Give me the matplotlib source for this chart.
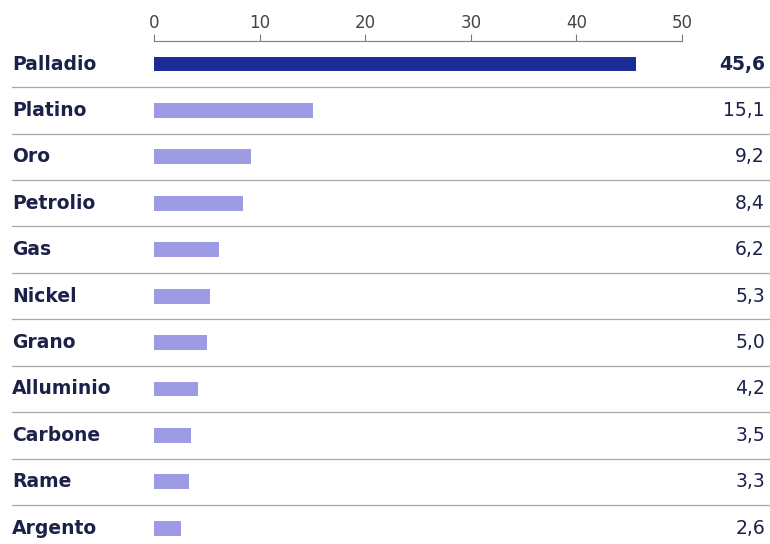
import matplotlib.pyplot as plt

# dati
categorie = ['Palladio', 'Platino', 'Oro', 'Petrolio', 'Gas', 'Nickel',
             'Grano', 'Alluminio', 'Carbone', 'Rame', 'Argento']
valori = [45.6, 15.1, 9.2, 8.4, 6.2, 5.3, 5.0, 4.2, 3.5, 3.3, 2.6]
etichette = ['45,6', '15,1', '9,2', '8,4', '6,2', '5,3', '5,0', '4,2', '3,5', '3,3', '2,6']
tick_x = [0, 10, 20, 30, 40, 50]

plt.rcParams['font.family'] = ['DejaVu Sans']

fig = plt.figure(figsize=(7.7, 5.44), dpi=100)
ax = fig.add_axes([154 / 770, 0, 528 / 770, 1 - 40.8 / 544])

colori = ['#1b2c98'] + ['#9d9be3'] * (len(valori) - 1)
y = list(range(len(valori)))
ax.barh(y, valori, height=0.32, color=colori)

ax.set_xlim(0, 50)
ax.set_ylim(10.34, -0.5)

# asse in alto
for s in ['right', 'left', 'bottom']:
    ax.spines[s].set_visible(False)
ax.spines['top'].set_color('#8a8a6a')
ax.spines['top'].set_linewidth(0.9)
ax.xaxis.tick_top()
ax.set_xticks(tick_x)
ax.tick_params(axis='x', direction='out', length=5, width=0.8, color='#777777',
               labelsize=12, labelcolor='#444444', pad=1.5)
ax.set_yticks([])

# linee di separazione
for i in range(len(valori) - 1):
    ax.axhline(i + 0.5, xmin=-0.269, xmax=1.167, color='#a8a8a8', lw=0.9, clip_on=False)

# etichette e valori
for i, (c, e) in enumerate(zip(categorie, etichette)):
    ax.text(-0.269, i, c, transform=ax.get_yaxis_transform(), ha='left', va='center',
            fontsize=13.5, fontweight='bold', color='#1b2148')
    ax.text(1.157, i, e, transform=ax.get_yaxis_transform(), ha='right', va='center',
            fontsize=13.5, fontweight='bold' if i == 0 else 'normal', color='#1b2148')

fig.savefig('out.png', dpi=100)
